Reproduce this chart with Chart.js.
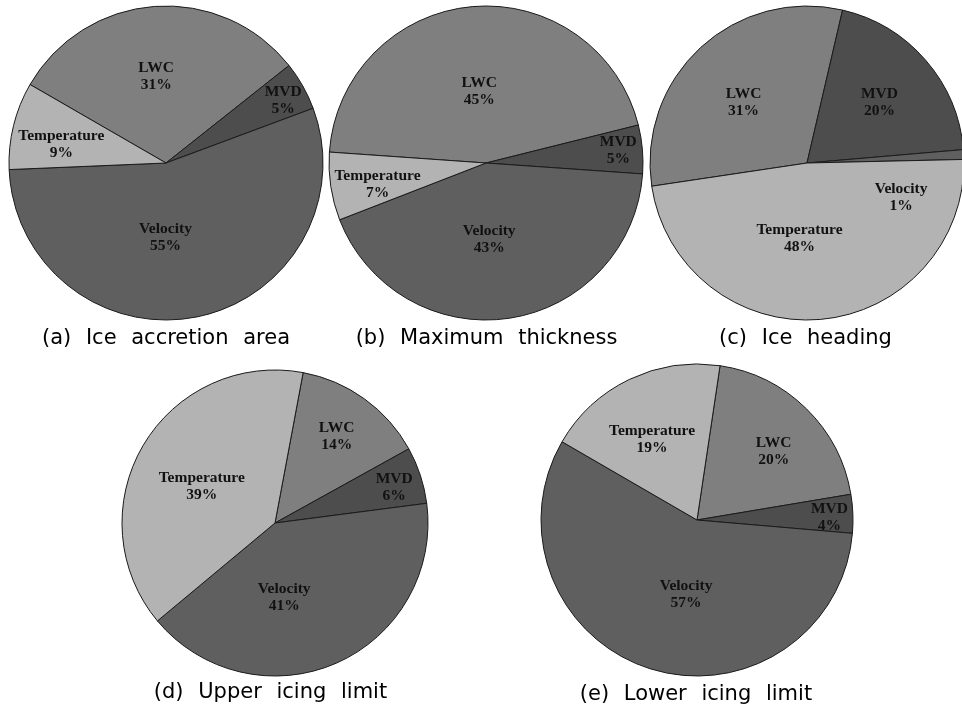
<!DOCTYPE html>
<html>
<head>
<meta charset="utf-8">
<script src="https://cdn.jsdelivr.net/npm/chart.js@4.4.1/dist/chart.umd.min.js"></script>
<style>
  html, body { margin: 0; padding: 0; background: #fff; }
  body { width: 962px; height: 707px; overflow: hidden; position: relative; }
  canvas { position: absolute; }
  .cap {
    position: absolute; width: 340px; text-align: center; white-space: pre;
    font: 21px "DejaVu Sans", sans-serif; line-height: 22px;
    word-spacing: 5px; color: #000;
  }
</style>
</head>
<body>
<script>
// slice order is clockwise, starting at each chart's rotation
const categories = ['LWC', 'MVD', 'Velocity', 'Temperature'];
const iceArea = [31, 5, 55, 9];
const maxThickness = [45, 5, 43, 7];
const iceHeading = [31, 20, 1, 48];
const upperLimit = [14, 6, 41, 39];
const lowerLimit = [20, 4, 57, 19];
const captions = ['(a) Ice accretion area', '(b) Maximum thickness', '(c) Ice heading',
                  '(d) Upper icing limit', '(e) Lower icing limit'];

const sliceColors = ['#7f7f7f', '#4d4d4d', '#5f5f5f', '#b3b3b3'];

// label spots: [degrees clockwise from 12 o'clock, fraction of radius]
const panels = [
  { values: iceArea, cx: 165.5, cy: 163, r: 157, rotation: 300, capX: 166, capY: 326,
    labelAt: { LWC: [353.5, 0.555], MVD: [62, 0.845], Velocity: [180.4, 0.473], Temperature: [279.8, 0.677] } },
  { values: maxThickness, cx: 486, cy: 163, r: 157, rotation: 274, capX: 486.5, capY: 326,
    labelAt: { LWC: [354.6, 0.456], MVD: [84.8, 0.846], Velocity: [177.6, 0.486], Temperature: [259, 0.704] } },
  { values: iceHeading, cx: 806.5, cy: 163, r: 157, rotation: 261.5, capX: 805.5, capY: 326,
    labelAt: { LWC: [313.5, 0.557], MVD: [50.3, 0.6], Velocity: [110.1, 0.638], Temperature: [185.7, 0.482] } },
  { values: upperLimit, cx: 275, cy: 522.5, r: 153, rotation: 10.6, capX: 270.5, capY: 680,
    labelAt: { LWC: [35.5, 0.694], MVD: [73.2, 0.814], Velocity: [173, 0.493], Temperature: [296.7, 0.536] } },
  { values: lowerLimit, cx: 696.5, cy: 520, r: 156, rotation: 8.5, capX: 696, capY: 682,
    labelAt: { LWC: [48.3, 0.658], MVD: [89.1, 0.849], Velocity: [188.4, 0.481], Temperature: [330.9, 0.593] } }
];

// name + percentage written inside each slice
const sliceLabels = {
  id: 'sliceLabels',
  afterDatasetsDraw(chart, args, opts) {
    const ctx = chart.ctx;
    const ds = chart.data.datasets[0];
    const meta = chart.getDatasetMeta(0);
    ctx.save();
    ctx.font = 'bold 15.5px "Liberation Serif", "Times New Roman", serif';
    ctx.fillStyle = '#111';
    ctx.textAlign = 'center';
    ctx.textBaseline = 'middle';
    meta.data.forEach((arc, i) => {
      const p = ds.data[i];
      const name = chart.data.labels[i];
      const { x, y, startAngle, endAngle, outerRadius } =
        arc.getProps(['x', 'y', 'startAngle', 'endAngle', 'outerRadius'], true);
      let ang = (startAngle + endAngle) / 2;
      let f = 0.55;
      const spot = (opts.labelAt || {})[name];
      if (spot) {
        ang = spot[0] * Math.PI / 180 - Math.PI / 2;
        f = spot[1];
      }
      const lx = x + Math.cos(ang) * f * outerRadius;
      const ly = y + Math.sin(ang) * f * outerRadius;
      ctx.fillText(name, lx, ly - 8.5);
      ctx.fillText(p + '%', lx, ly + 8.5);
    });
    ctx.restore();
  }
};

const SIZE = 340;

panels.forEach((pn, k) => {
  const canvas = document.createElement('canvas');
  canvas.width = SIZE;
  canvas.height = SIZE;
  canvas.style.left = (pn.cx - SIZE / 2) + 'px';
  canvas.style.top = (pn.cy - SIZE / 2) + 'px';
  document.body.appendChild(canvas);

  new Chart(canvas, {
    type: 'pie',
    data: {
      labels: categories,
      datasets: [{
        data: pn.values,
        backgroundColor: sliceColors,
        borderColor: '#1a1a1a',
        borderWidth: 1
      }]
    },
    options: {
      responsive: false,
      animation: false,
      radius: pn.r,
      rotation: pn.rotation,
      layout: { padding: 0 },
      plugins: {
        legend: { display: false },
        tooltip: { enabled: false },
        sliceLabels: { labelAt: pn.labelAt }
      }
    },
    plugins: [sliceLabels]
  });

  const cap = document.createElement('div');
  cap.className = 'cap';
  cap.textContent = captions[k];
  cap.style.left = (pn.capX - SIZE / 2) + 'px';
  cap.style.top = pn.capY + 'px';
  cap.style.wordSpacing = '8px';
  document.body.appendChild(cap);
});
</script>
</body>
</html>
